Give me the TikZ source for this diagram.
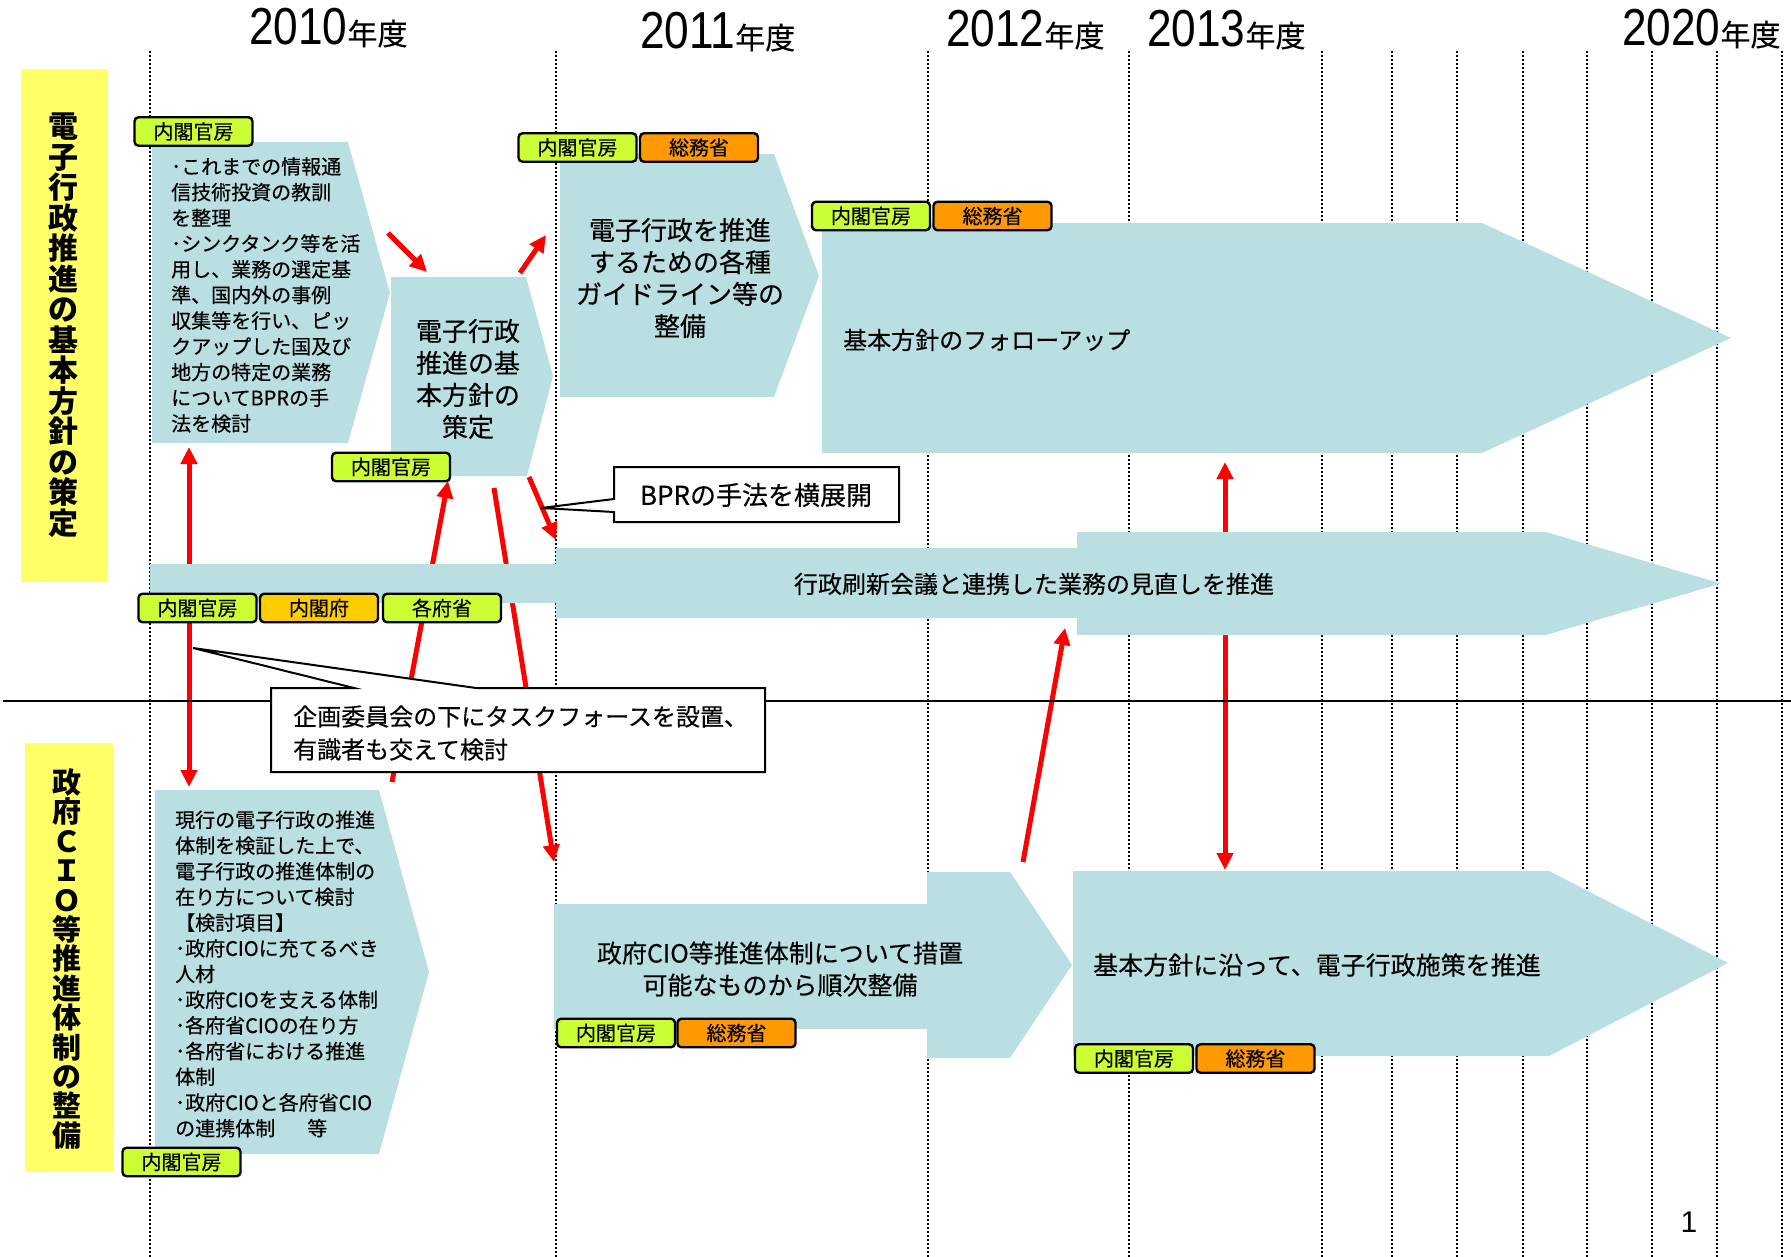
\documentclass[tikz,border=0pt]{standalone}
\usepackage{fontspec}
\setmainfont{Noto Sans CJK JP}[UprightFeatures={FakeBold=0.35}]
\newfontfamily\digitfont{Liberation Sans}[FakeStretch=0.85]
\newfontfamily\pagefont{Liberation Sans}
\usetikzlibrary{arrows.meta}
\definecolor{bandblue}{RGB}{185,223,226}
\definecolor{taggreen}{RGB}{204,255,51}
\definecolor{tagorange}{RGB}{255,153,0}
\definecolor{taggold}{RGB}{255,204,0}
\definecolor{sideyellow}{RGB}{255,255,102}
\tikzset{
  shapefill/.style={fill=bandblue, draw=none},
  tagbox/.style={draw=black, line width=2.4pt, rounded corners=4pt, minimum width=118pt, minimum height=28.5pt, inner sep=0pt, font=\fontsize{20}{20}\selectfont},
  greentag/.style={tagbox, fill=taggreen},
  orangetag/.style={tagbox, fill=tagorange},
  goldtag/.style={tagbox, fill=taggold},
  redarrow/.style={draw=red, line width=5pt, -{Triangle[length=17pt,width=16pt]}},
  redboth/.style={draw=red, line width=5pt, {Triangle[length=17pt,width=16pt]}-{Triangle[length=17pt,width=16pt]}},
  gridline/.style={line width=2pt, dash pattern=on 2pt off 2pt},
  callout/.style={fill=white, draw=black, line width=2pt},
  yearlabel/.style={anchor=base west, inner sep=0pt},
  sidetext/.style={align=center, inner sep=0pt},
  bodytext/.style={inner sep=0pt}
}
\newcommand{\yr}[1]{{\digitfont\fontsize{52}{52}\selectfont #1}{\fontsize{30}{30}\selectfont 年度}}
\begin{document}
\begin{tikzpicture}[x=1pt,y=-1pt,font=\fontsize{20}{25.7}\selectfont]
\useasboundingbox (0,0) rectangle (1791,1257);
% side boxes
\fill[sideyellow] (21,69) rectangle (108,582);
\fill[sideyellow] (25,743) rectangle (113,1172);
% grid lines
\foreach \x in {150,556,928,1129,1322,1392,1457,1523,1587,1652,1717,1782}
  \draw[gridline] (\x,51) -- (\x,1257);
% arrow coordinates
\coordinate (a1s) at (388,233); \coordinate (a1e) at (427,272);
\coordinate (a2s) at (520,273); \coordinate (a2e) at (546,235);
\coordinate (a3s) at (529,477); \coordinate (a3e) at (556,540);
\coordinate (a4s) at (189,447); \coordinate (a4e) at (189,787);
\coordinate (a5s) at (392,782); \coordinate (a5e) at (448,481);
\coordinate (a6s) at (494,488); \coordinate (a6e) at (554,862);
\coordinate (a7s) at (1023,862); \coordinate (a7e) at (1065,628);
\coordinate (a8s) at (1225,462); \coordinate (a8e) at (1225,870);
\draw[redarrow] (a1s) -- (a1e);
\draw[redarrow] (a2s) -- (a2e);
\draw[redarrow] (a3s) -- (a3e);
\draw[redboth] (a4s) -- (a4e);
\draw[redarrow] (a5s) -- (a5e);
\draw[redarrow] (a6s) -- (a6e);
\draw[redarrow] (a7s) -- (a7e);
\draw[redboth] (a8s) -- (a8e);
% divider
\coordinate (divl) at (3,701); \coordinate (divr) at (1791,701);
\draw[line width=2.5pt] (divl) -- (divr);
% shapes
\fill[shapefill] (152,142) -- (348,142) -- (390,293) -- (348,443) -- (152,443) -- cycle;
\fill[shapefill] (391,277) -- (526,277) -- (553,376) -- (527,476) -- (391,476) -- cycle;
\fill[shapefill] (560,154) -- (774,154) -- (819,276) -- (774,397) -- (560,397) -- cycle;
\fill[shapefill] (822,223) -- (1482,223) -- (1731,338) -- (1482,453) -- (822,453) -- cycle;
\fill[shapefill] (150,564) -- (556,564) -- (556,548) -- (1077,548) -- (1077,532) -- (1546,532) -- (1721,583.5) -- (1546,635) -- (1077,635) -- (1077,618) -- (556,618) -- (556,603) -- (150,603) -- cycle;
\fill[shapefill] (155,790) -- (379,790) -- (429,972) -- (379,1154) -- (155,1154) -- cycle;
\fill[shapefill] (554,904) -- (927,904) -- (927,872) -- (1010,872) -- (1072,965) -- (1010,1058) -- (927,1058) -- (927,1029) -- (554,1029) -- cycle;
\fill[shapefill] (1073,871) -- (1549,871) -- (1728,963) -- (1549,1056) -- (1073,1056) -- cycle;
% callouts
\draw[callout] (271,688) -- (354,688) -- (193,648) -- (476,688) -- (765,688) -- (765,772) -- (271,772) -- cycle;
\draw[callout] (614,467) -- (899,467) -- (899,522) -- (614,522) -- (614,512) -- (541,508) -- (614,499) -- cycle;
% year labels
\node[yearlabel] (y2010) at (249,45) {\yr{2010}};
\node[yearlabel] (y2011) at (640,49) {\yr{2011}};
\node[yearlabel] (y2012) at (946,47) {\yr{2012}};
\node[yearlabel] (y2013) at (1147,47) {\yr{2013}};
\node[yearlabel] (y2020) at (1622,46) {\yr{2020}};
% side texts
\node[sidetext, font=\bfseries\fontsize{30}{30.5}\selectfont] (side1) at (63,325) {電\\子\\行\\政\\推\\進\\の\\基\\本\\方\\針\\の\\策\\定};
\node[sidetext, font=\bfseries\fontsize{29}{29.4}\selectfont] (side2) at (67,959) {政\\府\\Ｃ\\Ｉ\\Ｏ\\等\\推\\進\\体\\制\\の\\整\\備};
% shape texts
\node[bodytext, anchor=west, align=left] (p1txt) at (171,295) {･これまでの情報通\\信技術投資の教訓\\を整理\\･シンクタンク等を活\\用し、業務の選定基\\準、国内外の事例\\収集等を行い、ピッ\\クアップした国及び\\地方の特定の業務\\についてBPRの手\\法を検討};
\node[bodytext, align=center, font=\fontsize{26}{32}\selectfont] (p2txt) at (468,379) {電子行政\\推進の基\\本方針の\\策定};
\node[bodytext, align=center, font=\fontsize{26}{32}\selectfont] (p3txt) at (680,278) {電子行政を推進\\するための各種\\ガイドライン等の\\整備};
\node[bodytext, anchor=west, font=\fontsize{24}{24}\selectfont] (p4txt) at (843,340) {基本方針のフォローアップ};
\node[bodytext, font=\fontsize{24}{24}\selectfont] (bandtxt) at (1034,584) {行政刷新会議と連携した業務の見直しを推進};
\node[bodytext, anchor=west, align=left] (p5txt) at (175,974) {現行の電子行政の推進\\体制を検証した上で、\\電子行政の推進体制の\\在り方について検討\\【検討項目】\\･政府CIOに充てるべき\\人材\\･政府CIOを支える体制\\･各府省CIOの在り方\\･各府省における推進\\体制\\･政府CIOと各府省CIO\\の連携体制\hspace{1.6em}等};
\node[bodytext, align=center, font=\fontsize{25}{32}\selectfont] (p6txt) at (780,969) {政府CIO等推進体制について措置\\可能なものから順次整備};
\node[bodytext, anchor=west, font=\fontsize{25}{25}\selectfont] (p7txt) at (1093,965) {基本方針に沿って、電子行政施策を推進};
\node[bodytext, anchor=west, align=left, font=\fontsize{24}{33}\selectfont] (c1txt) at (293,733) {企画委員会の下にタスクフォースを設置、\\有識者も交えて検討};
\node[bodytext, font=\fontsize{26}{26}\selectfont] (c2txt) at (756,495) {BPRの手法を横展開};
% tags
\node[greentag] (t1) at (193.5,131.5) {内閣官房};
\node[greentag] (t2) at (391,467) {内閣官房};
\node[greentag] (t3a) at (577.5,147.5) {内閣官房};
\node[orangetag] (t3b) at (699,147.5) {総務省};
\node[greentag] (t4a) at (871,216) {内閣官房};
\node[orangetag] (t4b) at (992.5,216) {総務省};
\node[greentag] (t5a) at (197.5,608) {内閣官房};
\node[goldtag] (t5b) at (319,608) {内閣府};
\node[greentag] (t5c) at (442,608) {各府省};
\node[greentag] (t6) at (181.5,1162) {内閣官房};
\node[greentag] (t7a) at (616,1033) {内閣官房};
\node[orangetag] (t7b) at (736.5,1033) {総務省};
\node[greentag] (t8a) at (1134,1058.5) {内閣官房};
\node[orangetag] (t8b) at (1255.5,1058.5) {総務省};
% page number
\node[anchor=base, inner sep=0pt, font=\pagefont\fontsize{30}{30}\selectfont] (pnum) at (1689,1232) {1};
\end{tikzpicture}
\end{document}
